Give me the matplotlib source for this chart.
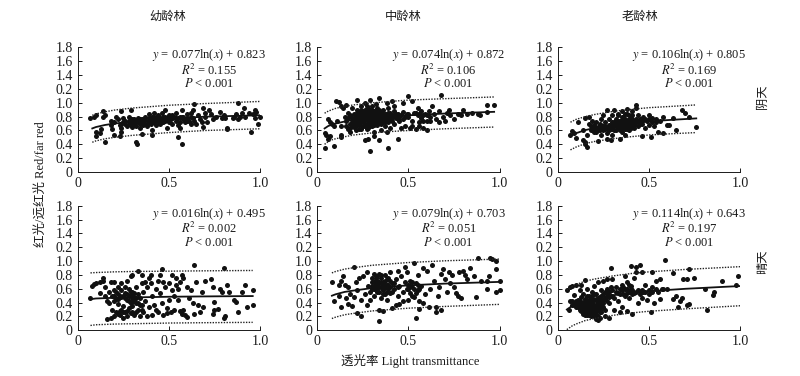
import matplotlib
matplotlib.use('Agg')
import matplotlib.pyplot as plt

plt.rcParams['font.family'] = ['Liberation Serif', 'Noto Sans CJK SC']
plt.rcParams['mathtext.fontset'] = 'stix'

y_ticks = [0, 0.2, 0.4, 0.6, 0.8, 1.0, 1.2, 1.4, 1.6, 1.8]
y_tick_labels = ['0', '0.2', '0.4', '0.6', '0.8', '1.0', '0.2', '1.4', '1.6', '1.8']
x_ticks = [0, 0.5, 1.0]
x_tick_labels = ['0', '0.5', '1.0']
col_titles = ['幼龄林', '中龄林', '老龄林']
row_titles = ['阴天', '晴天']

eq_young_overcast = ['$y$ = 0.077ln($x$) + 0.823', '$R^{\\!2}$ = 0.155', '$P$ < 0.001']
eq_middle_overcast = ['$y$ = 0.074ln($x$) + 0.872', '$R^{\\!2}$ = 0.106', '$P$ < 0.001']
eq_old_overcast = ['$y$ = 0.106ln($x$) + 0.805', '$R^{\\!2}$ = 0.169', '$P$ < 0.001']
eq_young_sunny = ['$y$ = 0.016ln($x$) + 0.495', '$R^{\\!2}$ = 0.002', '$P$ < 0.001']
eq_middle_sunny = ['$y$ = 0.079ln($x$) + 0.703', '$R^{\\!2}$ = 0.051', '$P$ < 0.001']
eq_old_sunny = ['$y$ = 0.114ln($x$) + 0.643', '$R^{\\!2}$ = 0.197', '$P$ < 0.001']

# curves: x, fit, upper and lower band
cx_young_overcast = [0.08, 0.1, 0.15, 0.2, 0.3, 0.4, 0.5, 0.7, 1.0]
fit_young_overcast = [0.63, 0.65, 0.68, 0.70, 0.73, 0.75, 0.77, 0.80, 0.82]
up_young_overcast = [0.82, 0.84, 0.87, 0.895, 0.925, 0.945, 0.965, 0.99, 1.02]
lo_young_overcast = [0.43, 0.45, 0.48, 0.50, 0.53, 0.55, 0.57, 0.60, 0.625]

cx_middle_overcast = [0.04, 0.06, 0.08, 0.1, 0.15, 0.2, 0.3, 0.4, 0.5, 0.7, 0.97]
fit_middle_overcast = [0.63, 0.665, 0.685, 0.70, 0.73, 0.755, 0.785, 0.805, 0.82, 0.845, 0.87]
up_middle_overcast = [0.85, 0.88, 0.90, 0.92, 0.95, 0.97, 1.0, 1.02, 1.04, 1.06, 1.085]
lo_middle_overcast = [0.40, 0.44, 0.465, 0.48, 0.51, 0.535, 0.565, 0.585, 0.60, 0.625, 0.65]

cx_old_overcast = [0.07, 0.1, 0.15, 0.2, 0.3, 0.4, 0.5, 0.6, 0.76]
fit_old_overcast = [0.525, 0.56, 0.605, 0.635, 0.675, 0.71, 0.73, 0.75, 0.775]
up_old_overcast = [0.72, 0.76, 0.80, 0.83, 0.875, 0.905, 0.93, 0.945, 0.97]
lo_old_overcast = [0.32, 0.36, 0.41, 0.44, 0.48, 0.51, 0.535, 0.55, 0.57]

cx_young_sunny = [0.07, 0.1, 0.2, 0.3, 0.5, 0.7, 0.96]
fit_young_sunny = [0.45, 0.46, 0.47, 0.475, 0.485, 0.49, 0.495]
up_young_sunny = [0.83, 0.835, 0.845, 0.85, 0.855, 0.86, 0.865]
lo_young_sunny = [0.07, 0.08, 0.09, 0.095, 0.105, 0.11, 0.115]

cx_middle_sunny = [0.08, 0.1, 0.15, 0.2, 0.3, 0.4, 0.5, 0.7, 1.0]
fit_middle_sunny = [0.50, 0.52, 0.555, 0.575, 0.61, 0.63, 0.65, 0.675, 0.70]
up_middle_sunny = [0.83, 0.85, 0.885, 0.905, 0.94, 0.96, 0.98, 1.005, 1.03]
lo_middle_sunny = [0.17, 0.19, 0.225, 0.245, 0.28, 0.30, 0.32, 0.345, 0.375]

cx_old_sunny = [0.05, 0.08, 0.1, 0.15, 0.2, 0.3, 0.4, 0.5, 0.7, 1.0]
fit_old_sunny = [0.30, 0.355, 0.38, 0.43, 0.46, 0.505, 0.54, 0.565, 0.60, 0.64]
up_old_sunny = [0.58, 0.635, 0.66, 0.71, 0.74, 0.785, 0.82, 0.845, 0.88, 0.92]
lo_old_sunny = [0.01, 0.065, 0.09, 0.14, 0.17, 0.215, 0.25, 0.275, 0.31, 0.355]

pts_young_overcast = [
    (0.07, 0.78), (0.09, 0.79), (0.1, 0.82), (0.1, 0.58), (0.1, 0.52), (0.12, 0.57), (0.13, 0.62), (0.14, 0.8),
    (0.14, 0.88), (0.15, 0.43), (0.15, 0.82), (0.2, 0.53), (0.2, 0.72), (0.23, 0.52), (0.24, 0.88), (0.29, 0.9),
    (0.32, 0.44), (0.325, 0.41), (0.35, 0.55), (0.41, 0.6), (0.41, 0.53), (0.55, 0.5), (0.57, 0.41), (0.64, 0.98),
    (0.69, 0.65), (0.82, 0.62), (0.82, 0.64), (0.88, 1.0), (0.95, 0.58), (0.91, 0.92), (0.97, 0.9), (0.98, 0.87),
    (0.99, 0.7), (1.0, 0.8), (0.18, 0.68), (0.18, 0.74), (0.19, 0.62), (0.21, 0.8), (0.22, 0.76), (0.23, 0.68),
    (0.24, 0.63), (0.24, 0.58), (0.25, 0.72), (0.25, 0.78), (0.26, 0.7), (0.27, 0.66), (0.28, 0.74), (0.28, 0.8),
    (0.29, 0.68), (0.3, 0.72), (0.3, 0.65), (0.31, 0.76), (0.31, 0.7), (0.32, 0.66), (0.33, 0.78), (0.33, 0.73),
    (0.34, 0.7), (0.34, 0.64), (0.35, 0.76), (0.36, 0.72), (0.36, 0.68), (0.37, 0.8), (0.37, 0.75), (0.38, 0.7),
    (0.38, 0.66), (0.39, 0.78), (0.39, 0.84), (0.4, 0.74), (0.4, 0.7), (0.41, 0.8), (0.41, 0.76), (0.42, 0.72),
    (0.42, 0.85), (0.43, 0.78), (0.43, 0.68), (0.44, 0.82), (0.44, 0.74), (0.45, 0.7), (0.45, 0.78), (0.46, 0.86),
    (0.46, 0.76), (0.47, 0.72), (0.47, 0.8), (0.48, 0.9), (0.48, 0.74), (0.49, 0.64), (0.49, 0.78), (0.5, 0.72),
    (0.5, 0.82), (0.51, 0.76), (0.52, 0.7), (0.53, 0.8), (0.54, 0.74), (0.54, 0.85), (0.55, 0.68), (0.55, 0.78),
    (0.56, 0.64), (0.56, 0.72), (0.57, 0.9), (0.57, 0.8), (0.58, 0.76), (0.59, 0.72), (0.6, 0.84), (0.6, 0.78),
    (0.61, 0.74), (0.62, 0.7), (0.62, 0.86), (0.63, 0.9), (0.63, 0.78), (0.64, 0.74), (0.65, 0.7), (0.66, 0.82),
    (0.67, 0.76), (0.68, 0.72), (0.69, 0.92), (0.7, 0.86), (0.7, 0.8), (0.71, 0.72), (0.72, 0.9), (0.73, 0.84),
    (0.74, 0.76), (0.76, 0.8), (0.78, 0.87), (0.79, 0.78), (0.8, 0.82), (0.81, 0.78), (0.85, 0.78), (0.86, 0.8),
    (0.87, 0.84), (0.88, 0.76), (0.89, 0.8), (0.9, 0.86), (0.92, 0.8), (0.94, 0.85), (0.96, 0.84), (0.97, 0.78),
    (0.35, 0.72), (0.37, 0.7), (0.39, 0.74), (0.41, 0.72), (0.43, 0.74), (0.44, 0.78), (0.46, 0.72), (0.48, 0.8),
    (0.5, 0.76), (0.52, 0.78), (0.52, 0.82), (0.54, 0.78), (0.56, 0.8), (0.58, 0.8), (0.6, 0.74), (0.62, 0.8),
    (0.24, 0.7), (0.26, 0.74), (0.28, 0.7), (0.3, 0.76), (0.32, 0.72), (0.34, 0.76), (0.4, 0.78), (0.42, 0.8),
]

pts_middle_overcast = [
    (0.04, 0.35), (0.04, 0.56), (0.05, 0.53), (0.06, 0.48), (0.07, 0.52), (0.09, 0.38), (0.06, 0.76), (0.07, 0.72),
    (0.08, 0.7), (0.09, 0.67), (0.1, 1.03), (0.12, 1.01), (0.13, 0.95), (0.14, 0.92), (0.16, 0.97), (0.13, 0.5),
    (0.13, 0.54), (0.11, 0.74), (0.13, 0.66), (0.15, 0.8), (0.16, 0.74), (0.17, 0.62), (0.17, 0.86), (0.18, 0.58),
    (0.18, 0.7), (0.19, 0.78), (0.19, 0.92), (0.2, 0.65), (0.2, 0.84), (0.21, 0.72), (0.21, 0.6), (0.22, 1.04),
    (0.22, 0.9), (0.22, 0.8), (0.23, 0.68), (0.23, 0.75), (0.23, 0.86), (0.24, 0.62), (0.24, 0.95), (0.24, 0.78),
    (0.25, 0.72), (0.25, 0.84), (0.25, 0.66), (0.26, 1.0), (0.26, 0.9), (0.26, 0.8), (0.26, 0.7), (0.26, 0.46),
    (0.27, 0.76), (0.27, 0.86), (0.27, 0.62), (0.27, 0.96), (0.28, 0.68), (0.28, 0.82), (0.28, 0.74), (0.28, 0.48),
    (0.29, 1.04), (0.29, 0.9), (0.29, 0.78), (0.29, 0.7), (0.29, 0.31), (0.3, 0.84), (0.3, 0.74), (0.3, 0.66),
    (0.3, 0.95), (0.31, 0.58), (0.31, 0.8), (0.31, 0.88), (0.31, 0.72), (0.31, 0.52), (0.32, 0.98), (0.32, 0.76),
    (0.32, 0.84), (0.33, 0.68), (0.33, 0.92), (0.33, 0.8), (0.34, 0.74), (0.34, 1.07), (0.34, 0.86), (0.34, 0.46),
    (0.35, 0.7), (0.35, 0.82), (0.35, 0.6), (0.36, 0.76), (0.36, 0.9), (0.37, 0.66), (0.37, 0.84), (0.38, 1.0),
    (0.38, 0.8), (0.38, 0.58), (0.39, 0.72), (0.39, 0.35), (0.39, 0.92), (0.4, 0.86), (0.4, 0.76), (0.4, 0.64),
    (0.41, 1.03), (0.41, 0.82), (0.42, 0.7), (0.42, 0.96), (0.42, 0.88), (0.43, 0.78), (0.44, 0.47), (0.44, 0.84),
    (0.45, 0.74), (0.45, 0.8), (0.46, 0.64), (0.47, 0.87), (0.47, 1.0), (0.47, 0.76), (0.48, 0.66), (0.49, 0.84),
    (0.5, 1.1), (0.5, 0.8), (0.51, 0.64), (0.52, 1.02), (0.52, 0.74), (0.53, 0.86), (0.54, 0.62), (0.55, 0.82),
    (0.55, 0.92), (0.56, 0.72), (0.57, 0.78), (0.57, 0.88), (0.58, 0.64), (0.59, 0.84), (0.6, 0.74), (0.6, 0.61),
    (0.61, 0.88), (0.62, 0.8), (0.63, 0.96), (0.64, 0.84), (0.65, 0.76), (0.67, 0.88), (0.67, 0.72), (0.68, 1.12),
    (0.69, 0.8), (0.7, 0.74), (0.71, 0.86), (0.72, 0.9), (0.73, 0.82), (0.75, 0.76), (0.77, 0.84), (0.8, 0.9),
    (0.79, 0.82), (0.82, 0.84), (0.85, 0.86), (0.88, 0.84), (0.89, 0.82), (0.93, 0.97), (0.93, 0.87), (0.97, 0.97),
    (0.2, 0.72), (0.2, 0.78), (0.21, 0.66), (0.21, 0.84), (0.22, 0.7), (0.22, 0.76), (0.23, 0.8), (0.23, 0.62),
    (0.24, 0.72), (0.24, 0.84), (0.24, 0.9), (0.25, 0.78), (0.25, 0.74), (0.25, 0.88), (0.26, 0.76), (0.26, 0.84),
    (0.26, 0.66), (0.27, 0.7), (0.27, 0.8), (0.27, 0.9), (0.28, 0.78), (0.28, 0.86), (0.28, 0.92), (0.28, 0.64),
    (0.29, 0.74), (0.29, 0.82), (0.29, 0.86), (0.29, 0.66), (0.3, 0.78), (0.3, 0.7), (0.3, 0.9), (0.31, 0.76),
    (0.31, 0.84), (0.31, 0.68), (0.32, 0.72), (0.32, 0.8), (0.32, 0.88), (0.33, 0.76), (0.33, 0.84), (0.33, 0.72),
    (0.34, 0.78), (0.34, 0.82), (0.34, 0.9), (0.35, 0.74), (0.35, 0.78), (0.35, 0.86), (0.36, 0.8), (0.36, 0.84),
    (0.36, 0.72), (0.37, 0.76), (0.37, 0.8), (0.37, 0.72), (0.38, 0.76), (0.38, 0.84), (0.39, 0.8), (0.39, 0.86),
    (0.4, 0.8), (0.41, 0.74), (0.41, 0.78), (0.42, 0.82), (0.43, 0.84), (0.44, 0.76), (0.46, 0.82), (0.48, 0.8),
    (0.16, 0.66), (0.17, 0.78), (0.18, 0.64), (0.18, 0.82), (0.19, 0.68), (0.19, 0.72), (0.5, 0.84), (0.54, 0.86),
    (0.56, 0.84), (0.58, 0.82), (0.6, 0.82), (0.62, 0.74), (0.52, 0.66), (0.56, 0.66), (0.58, 0.74),
]

pts_old_overcast = [
    (0.07, 0.54), (0.08, 0.59), (0.09, 0.56), (0.1, 0.49), (0.11, 0.73), (0.14, 0.46), (0.15, 0.43), (0.15, 0.4),
    (0.16, 0.36), (0.14, 0.61), (0.15, 0.78), (0.16, 0.54), (0.17, 0.8), (0.17, 0.7), (0.18, 0.66), (0.18, 0.6),
    (0.19, 0.74), (0.2, 0.62), (0.2, 0.68), (0.21, 0.58), (0.21, 0.72), (0.22, 0.65), (0.22, 0.45), (0.23, 0.7),
    (0.23, 0.6), (0.24, 0.53), (0.24, 0.76), (0.25, 0.66), (0.25, 0.82), (0.26, 0.62), (0.26, 0.72), (0.27, 0.9),
    (0.27, 0.57), (0.27, 0.48), (0.28, 0.68), (0.28, 0.76), (0.29, 0.46), (0.29, 0.62), (0.3, 0.72), (0.3, 0.82),
    (0.3, 0.54), (0.31, 0.66), (0.31, 0.9), (0.32, 0.6), (0.32, 0.76), (0.33, 0.7), (0.33, 0.84), (0.34, 0.64),
    (0.34, 0.48), (0.34, 0.74), (0.35, 0.88), (0.35, 0.58), (0.35, 0.68), (0.36, 0.8), (0.36, 0.72), (0.37, 0.62),
    (0.37, 0.54), (0.37, 0.76), (0.38, 0.91), (0.38, 0.66), (0.38, 0.84), (0.39, 0.72), (0.39, 0.6), (0.4, 0.8),
    (0.4, 0.68), (0.41, 0.76), (0.41, 0.88), (0.42, 0.64), (0.43, 0.97), (0.43, 0.93), (0.43, 0.72), (0.44, 0.82),
    (0.44, 0.66), (0.45, 0.76), (0.46, 0.7), (0.46, 0.52), (0.47, 0.8), (0.48, 0.64), (0.49, 0.74), (0.5, 0.68),
    (0.5, 0.82), (0.51, 0.51), (0.52, 0.78), (0.53, 0.66), (0.54, 0.76), (0.55, 0.58), (0.56, 0.74), (0.58, 0.8),
    (0.58, 0.56), (0.6, 0.68), (0.61, 0.68), (0.63, 0.78), (0.65, 0.6), (0.68, 0.89), (0.7, 0.86), (0.72, 0.79),
    (0.76, 0.65),
    (0.19, 0.64), (0.2, 0.58), (0.21, 0.64), (0.22, 0.6), (0.23, 0.64), (0.24, 0.62), (0.25, 0.6), (0.26, 0.66),
    (0.27, 0.64), (0.28, 0.6), (0.29, 0.68), (0.3, 0.62), (0.3, 0.66), (0.31, 0.72), (0.31, 0.6), (0.32, 0.68),
    (0.33, 0.64), (0.33, 0.74), (0.34, 0.68), (0.34, 0.6), (0.35, 0.72), (0.35, 0.64), (0.36, 0.66), (0.36, 0.76),
    (0.37, 0.7), (0.37, 0.66), (0.38, 0.72), (0.38, 0.62), (0.39, 0.76), (0.39, 0.68), (0.4, 0.72), (0.4, 0.64),
    (0.41, 0.7), (0.42, 0.74), (0.42, 0.68), (0.43, 0.76), (0.44, 0.72), (0.45, 0.7), (0.46, 0.74), (0.48, 0.76),
    (0.33, 0.82), (0.35, 0.8), (0.37, 0.84), (0.39, 0.82), (0.41, 0.82), (0.5, 0.76), (0.52, 0.72), (0.54, 0.72),
]

pts_young_sunny = [
    (0.07, 0.47), (0.08, 0.64), (0.09, 0.67), (0.1, 0.68), (0.12, 0.7), (0.12, 0.54), (0.14, 0.72), (0.14, 0.76),
    (0.15, 0.63), (0.15, 0.5), (0.16, 0.42), (0.16, 0.16), (0.17, 0.55), (0.17, 0.4), (0.18, 0.7), (0.18, 0.18),
    (0.19, 0.5), (0.19, 0.3), (0.2, 0.58), (0.2, 0.7), (0.2, 0.2), (0.21, 0.45), (0.21, 0.26), (0.22, 0.52),
    (0.22, 0.38), (0.22, 0.62), (0.23, 0.22), (0.23, 0.28), (0.24, 0.58), (0.24, 0.48), (0.24, 0.68), (0.25, 0.35),
    (0.25, 0.18), (0.26, 0.62), (0.26, 0.46), (0.26, 0.26), (0.27, 0.52), (0.27, 0.72), (0.27, 0.2), (0.28, 0.42),
    (0.28, 0.32), (0.28, 0.6), (0.29, 0.78), (0.29, 0.5), (0.29, 0.25), (0.3, 0.8), (0.3, 0.44), (0.3, 0.35),
    (0.3, 0.55), (0.31, 0.22), (0.31, 0.48), (0.32, 0.62), (0.32, 0.4), (0.33, 0.86), (0.33, 0.3), (0.33, 0.52),
    (0.34, 0.46), (0.34, 0.2), (0.35, 0.68), (0.35, 0.36), (0.35, 0.8), (0.36, 0.55), (0.36, 0.26), (0.37, 0.7),
    (0.37, 0.42), (0.38, 0.62), (0.38, 0.2), (0.39, 0.76), (0.39, 0.33), (0.4, 0.68), (0.4, 0.8), (0.41, 0.5),
    (0.41, 0.22), (0.42, 0.37), (0.43, 0.6), (0.43, 0.3), (0.44, 0.72), (0.44, 0.26), (0.45, 0.8), (0.45, 0.54),
    (0.46, 0.89), (0.46, 0.4), (0.47, 0.7), (0.47, 0.22), (0.48, 0.62), (0.49, 0.32), (0.49, 0.25), (0.5, 0.68),
    (0.5, 0.44), (0.51, 0.26), (0.52, 0.8), (0.52, 0.58), (0.53, 0.5), (0.53, 0.3), (0.54, 0.76), (0.54, 0.66),
    (0.55, 0.6), (0.55, 0.44), (0.56, 0.7), (0.56, 0.28), (0.57, 0.8), (0.57, 0.24), (0.58, 0.76), (0.58, 0.3),
    (0.59, 0.22), (0.6, 0.62), (0.6, 0.19), (0.61, 0.46), (0.62, 0.58), (0.63, 0.4), (0.64, 0.94), (0.64, 0.24),
    (0.65, 0.7), (0.66, 0.36), (0.67, 0.26), (0.68, 0.56), (0.69, 0.34), (0.7, 0.71), (0.73, 0.74), (0.74, 0.62),
    (0.74, 0.24), (0.75, 0.41), (0.75, 0.3), (0.77, 0.31), (0.78, 0.6), (0.79, 0.56), (0.8, 0.9), (0.8, 0.18),
    (0.81, 0.2), (0.82, 0.66), (0.83, 0.56), (0.86, 0.44), (0.87, 0.41), (0.88, 0.26), (0.9, 0.55), (0.92, 0.65),
    (0.93, 0.34), (0.96, 0.36), (0.96, 0.58),
    (0.2, 0.5), (0.2, 0.42), (0.21, 0.55), (0.22, 0.24), (0.22, 0.45), (0.23, 0.5), (0.24, 0.3), (0.25, 0.5),
    (0.25, 0.26), (0.26, 0.54), (0.27, 0.28), (0.27, 0.44), (0.28, 0.5), (0.29, 0.4), (0.29, 0.56), (0.3, 0.26),
    (0.3, 0.5), (0.31, 0.42), (0.31, 0.54), (0.32, 0.46), (0.32, 0.26), (0.33, 0.4), (0.34, 0.36), (0.35, 0.3),
]

pts_middle_sunny = [
    (0.08, 0.7), (0.09, 0.42), (0.12, 0.5), (0.12, 0.66), (0.13, 0.72), (0.13, 0.33), (0.14, 0.78), (0.15, 0.65),
    (0.16, 0.46), (0.17, 0.62), (0.17, 0.38), (0.18, 0.52), (0.19, 0.35), (0.2, 0.92), (0.2, 0.48), (0.21, 0.7),
    (0.22, 0.25), (0.22, 0.58), (0.23, 0.76), (0.24, 0.2), (0.24, 0.44), (0.25, 0.78), (0.26, 0.52), (0.27, 0.36),
    (0.27, 0.85), (0.28, 0.64), (0.29, 0.44), (0.29, 0.56), (0.3, 0.7), (0.3, 0.6), (0.31, 0.82), (0.31, 0.5),
    (0.32, 0.66), (0.32, 0.76), (0.33, 0.56), (0.33, 0.72), (0.34, 0.14), (0.34, 0.3), (0.34, 0.62), (0.34, 0.82),
    (0.35, 0.46), (0.35, 0.68), (0.35, 0.76), (0.36, 0.28), (0.36, 0.58), (0.36, 0.64), (0.37, 0.72), (0.37, 0.8),
    (0.37, 0.52), (0.38, 0.44), (0.38, 0.66), (0.39, 0.6), (0.39, 0.76), (0.4, 0.84), (0.4, 0.54), (0.41, 0.32),
    (0.41, 0.68), (0.42, 0.6), (0.43, 0.74), (0.43, 0.36), (0.44, 0.5), (0.44, 0.86), (0.45, 0.64), (0.45, 0.38),
    (0.46, 0.78), (0.47, 0.56), (0.47, 0.42), (0.48, 0.7), (0.48, 0.92), (0.49, 0.6), (0.49, 0.84), (0.5, 0.66),
    (0.5, 0.44), (0.51, 0.54), (0.51, 0.72), (0.52, 0.62), (0.53, 0.98), (0.53, 0.48), (0.54, 0.18), (0.54, 0.68),
    (0.55, 0.58), (0.55, 0.8), (0.56, 0.31), (0.56, 0.42), (0.57, 0.64), (0.58, 0.4), (0.58, 0.9), (0.59, 0.52),
    (0.6, 0.86), (0.61, 0.33), (0.62, 0.6), (0.63, 0.95), (0.64, 0.72), (0.65, 0.27), (0.65, 0.34), (0.66, 0.5),
    (0.67, 0.62), (0.68, 0.3), (0.68, 0.82), (0.69, 0.88), (0.7, 0.74), (0.71, 0.56), (0.72, 0.84), (0.73, 0.68),
    (0.74, 0.8), (0.75, 0.62), (0.76, 0.54), (0.77, 0.5), (0.78, 0.84), (0.79, 0.46), (0.8, 0.86), (0.81, 0.8),
    (0.82, 0.74), (0.84, 0.9), (0.86, 0.78), (0.87, 0.48), (0.88, 1.05), (0.9, 0.71), (0.93, 0.72), (0.93, 0.6),
    (0.94, 0.78), (0.95, 1.05), (0.96, 1.03), (0.98, 0.88), (0.98, 1.0), (0.98, 0.55), (1.0, 0.58), (1.0, 0.71),
    (0.3, 0.64), (0.3, 0.76), (0.31, 0.7), (0.31, 0.6), (0.32, 0.72), (0.32, 0.6), (0.33, 0.66), (0.33, 0.78),
    (0.34, 0.7), (0.34, 0.56), (0.35, 0.62), (0.35, 0.8), (0.36, 0.7), (0.36, 0.52), (0.37, 0.62), (0.37, 0.66),
    (0.38, 0.56), (0.38, 0.74), (0.39, 0.66), (0.4, 0.72), (0.4, 0.62), (0.41, 0.56), (0.42, 0.68), (0.44, 0.62),
    (0.5, 0.6), (0.51, 0.64), (0.52, 0.7), (0.53, 0.6), (0.54, 0.54), (0.55, 0.66), (0.56, 0.6), (0.52, 0.5),
]

pts_old_sunny = [
    (0.05, 0.58), (0.06, 0.3), (0.07, 0.62), (0.07, 0.42), (0.08, 0.64), (0.08, 0.37), (0.09, 0.51), (0.09, 0.4),
    (0.1, 0.66), (0.1, 0.34), (0.11, 0.44), (0.11, 0.38), (0.12, 0.58), (0.12, 0.3), (0.12, 0.42), (0.13, 0.35),
    (0.13, 0.48), (0.13, 0.65), (0.14, 0.28), (0.14, 0.4), (0.14, 0.52), (0.15, 0.22), (0.15, 0.34), (0.15, 0.73),
    (0.15, 0.45), (0.16, 0.3), (0.16, 0.38), (0.16, 0.6), (0.17, 0.26), (0.17, 0.42), (0.17, 0.5), (0.18, 0.2),
    (0.18, 0.34), (0.18, 0.46), (0.19, 0.56), (0.19, 0.28), (0.19, 0.38), (0.2, 0.24), (0.2, 0.44), (0.2, 0.64),
    (0.21, 0.17), (0.21, 0.32), (0.21, 0.52), (0.22, 0.15), (0.22, 0.7), (0.22, 0.4), (0.23, 0.26), (0.23, 0.48),
    (0.24, 0.58), (0.24, 0.34), (0.25, 0.72), (0.25, 0.44), (0.26, 0.3), (0.26, 0.2), (0.27, 0.74), (0.27, 0.52),
    (0.28, 0.18), (0.28, 0.4), (0.29, 0.9), (0.29, 0.62), (0.3, 0.5), (0.3, 0.74), (0.31, 0.3), (0.32, 0.56),
    (0.33, 0.42), (0.34, 0.6), (0.34, 0.27), (0.35, 0.66), (0.35, 0.34), (0.36, 0.52), (0.37, 0.78), (0.37, 0.6),
    (0.38, 0.28), (0.38, 0.7), (0.39, 0.56), (0.39, 0.46), (0.4, 0.93), (0.4, 0.64), (0.41, 0.24), (0.41, 0.52),
    (0.42, 0.76), (0.43, 0.92), (0.43, 0.85), (0.44, 0.58), (0.44, 0.4), (0.45, 0.95), (0.46, 0.84), (0.46, 0.46),
    (0.47, 0.56), (0.48, 0.66), (0.49, 0.44), (0.5, 0.53), (0.51, 0.26), (0.52, 0.85), (0.52, 0.62), (0.53, 0.4),
    (0.54, 0.72), (0.55, 0.56), (0.56, 0.74), (0.56, 0.45), (0.59, 1.02), (0.6, 0.6), (0.63, 0.83), (0.63, 0.45),
    (0.65, 0.5), (0.66, 0.33), (0.67, 0.42), (0.68, 0.46), (0.69, 0.74), (0.71, 0.74), (0.71, 0.36), (0.72, 0.88),
    (0.72, 0.38), (0.75, 0.76), (0.81, 0.6), (0.82, 0.29), (0.85, 0.51), (0.86, 0.56), (0.9, 0.71), (0.98, 0.65),
    (0.99, 0.78),
    (0.08, 0.42), (0.09, 0.36), (0.1, 0.42), (0.1, 0.38), (0.11, 0.34), (0.11, 0.4), (0.12, 0.36), (0.12, 0.32),
    (0.13, 0.28), (0.13, 0.32), (0.13, 0.4), (0.14, 0.32), (0.14, 0.36), (0.14, 0.24), (0.15, 0.28), (0.15, 0.38),
    (0.15, 0.41), (0.16, 0.22), (0.16, 0.26), (0.16, 0.34), (0.16, 0.42), (0.16, 0.5), (0.17, 0.22), (0.17, 0.3),
    (0.17, 0.34), (0.17, 0.38), (0.18, 0.24), (0.18, 0.28), (0.18, 0.38), (0.18, 0.42), (0.19, 0.24), (0.19, 0.32),
    (0.19, 0.44), (0.19, 0.5), (0.2, 0.2), (0.2, 0.28), (0.2, 0.32), (0.2, 0.36), (0.2, 0.52), (0.21, 0.24),
    (0.21, 0.28), (0.21, 0.36), (0.21, 0.44), (0.22, 0.2), (0.22, 0.3), (0.22, 0.34), (0.22, 0.46), (0.23, 0.18),
    (0.23, 0.3), (0.23, 0.38), (0.23, 0.44), (0.24, 0.26), (0.24, 0.42), (0.24, 0.5), (0.25, 0.34), (0.25, 0.4),
    (0.25, 0.52), (0.26, 0.46), (0.26, 0.56), (0.27, 0.42), (0.27, 0.6), (0.28, 0.48), (0.28, 0.56), (0.29, 0.5),
    (0.3, 0.58), (0.31, 0.46), (0.32, 0.62), (0.33, 0.54), (0.34, 0.52), (0.35, 0.58), (0.36, 0.62), (0.37, 0.5),
    (0.38, 0.54), (0.38, 0.6), (0.39, 0.66), (0.4, 0.56), (0.4, 0.6), (0.41, 0.58), (0.42, 0.54), (0.43, 0.56),
    (0.45, 0.52), (0.46, 0.58), (0.48, 0.56), (0.5, 0.58), (0.52, 0.56), (0.54, 0.6), (0.57, 0.6), (0.58, 0.6),
]

panels = [
    (pts_young_overcast, cx_young_overcast, fit_young_overcast, up_young_overcast, lo_young_overcast, eq_young_overcast),
    (pts_middle_overcast, cx_middle_overcast, fit_middle_overcast, up_middle_overcast, lo_middle_overcast, eq_middle_overcast),
    (pts_old_overcast, cx_old_overcast, fit_old_overcast, up_old_overcast, lo_old_overcast, eq_old_overcast),
    (pts_young_sunny, cx_young_sunny, fit_young_sunny, up_young_sunny, lo_young_sunny, eq_young_sunny),
    (pts_middle_sunny, cx_middle_sunny, fit_middle_sunny, up_middle_sunny, lo_middle_sunny, eq_middle_sunny),
    (pts_old_sunny, cx_old_sunny, fit_old_sunny, up_old_sunny, lo_old_sunny, eq_old_sunny),
]

W, H = 800, 376
lefts = [77.7, 317.3, 557.7]
bottoms = [172, 330.3]
ax_w, ax_h = 182.3, 124.5

fig = plt.figure(figsize=(8, 3.76), dpi=100)
ink = '#1a1a1a'

for i, (pts, cx, fit, up, lo, eq) in enumerate(panels):
    row, col = i // 3, i % 3
    ax = fig.add_axes([lefts[col] / W, 1 - bottoms[row] / H, ax_w / W, ax_h / H])
    ax.scatter([p[0] for p in pts], [p[1] for p in pts], s=13, color='#111111', linewidths=0, clip_on=False, zorder=2)
    ax.plot(cx, fit, color='#111111', lw=1.3, zorder=3)
    ax.plot(cx, up, color='#222222', lw=1.0, ls=(0, (1, 1)), zorder=3)
    ax.plot(cx, lo, color='#222222', lw=1.0, ls=(0, (1, 1)), zorder=3)
    ax.set_xlim(0, 1.0)
    ax.set_ylim(0, 1.8)
    ax.set_xticks(x_ticks)
    ax.set_xticklabels(x_tick_labels)
    ax.set_yticks(y_ticks)
    ax.set_yticklabels(y_tick_labels)
    ax.spines['top'].set_visible(False)
    ax.spines['right'].set_visible(False)
    for s in ['left', 'bottom']:
        ax.spines[s].set_linewidth(0.7)
        ax.spines[s].set_color(ink)
    ax.tick_params(direction='in', length=3, width=0.7, labelsize=10, colors=ink, pad=3.5)
    ax.text(0.72, 1.49, '\n'.join(eq), ha='center', va='center', fontsize=9, color=ink, linespacing=0.95)

for x, t in zip([168, 403, 640], col_titles):
    fig.text(x / W, 1 - 17 / H, t, ha='center', va='center', fontsize=8.8, color=ink)
for y, t in zip([97, 262], row_titles):
    fig.text(763 / W, 1 - y / H, t, ha='center', va='center', rotation=90, fontsize=8.8, color=ink)
fig.text(41 / W, 1 - 184 / H, '红光/远红光 Red/far red', ha='center', va='center', rotation=90, fontsize=9, color=ink)
fig.text(410 / W, 1 - 361 / H, '透光率 Light transmittance', ha='center', va='center', fontsize=9, color=ink)

fig.savefig('out.png', dpi=100)
